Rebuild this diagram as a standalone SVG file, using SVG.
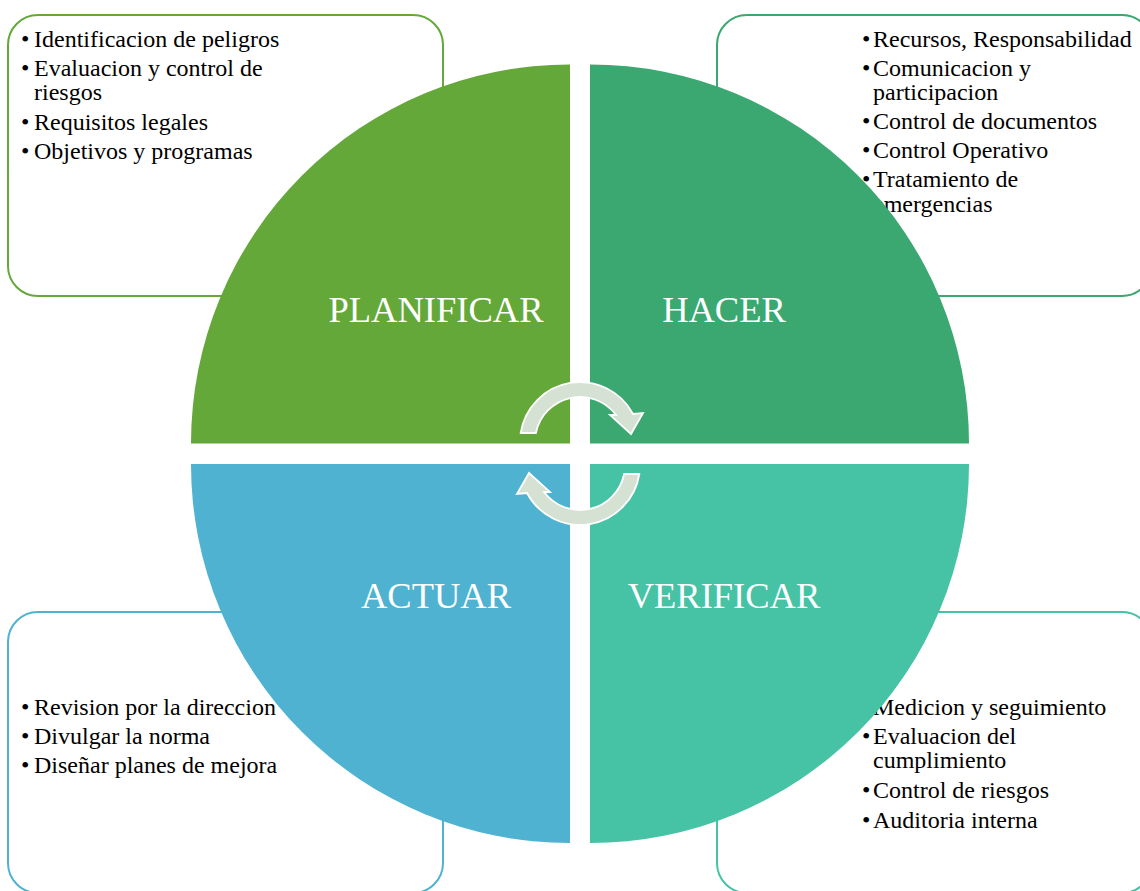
<svg xmlns="http://www.w3.org/2000/svg" width="1140" height="891" viewBox="0 0 1140 891">
<style>
.box{fill:#ffffff;stroke-width:2}
.t{font-family:"Liberation Serif","Times New Roman",serif;font-size:24px;fill:#000000}
.lbl{font-family:"Liberation Serif","Times New Roman",serif;font-size:36.5px;fill:#ffffff;text-anchor:middle}
.arr{fill:#d5e1d2;stroke:#ffffff;stroke-width:1.8;stroke-linejoin:miter}
</style>
<rect width="1140" height="891" fill="#ffffff"/>
<g id="box-planificar">
<rect class="box" x="8" y="15" width="435" height="281" rx="30" stroke="#65a83a"/>
<text class="t"><tspan x="21" y="47">•</tspan><tspan x="34" y="47">Identificacion de peligros</tspan><tspan x="21" y="76">•</tspan><tspan x="34" y="76">Evaluacion y control de</tspan><tspan x="34" y="100">riesgos</tspan><tspan x="21" y="130">•</tspan><tspan x="34" y="130">Requisitos legales</tspan><tspan x="21" y="159">•</tspan><tspan x="34" y="159">Objetivos y programas</tspan></text>
</g>
<g id="box-hacer">
<rect class="box" x="717" y="15" width="435" height="281" rx="30" stroke="#3aa870"/>
<text class="t"><tspan x="862" y="47">•</tspan><tspan x="873" y="47">Recursos, Responsabilidad</tspan><tspan x="862" y="76">•</tspan><tspan x="873" y="76">Comunicacion y</tspan><tspan x="873" y="100">participacion</tspan><tspan x="862" y="129">•</tspan><tspan x="873" y="129">Control de documentos</tspan><tspan x="862" y="158">•</tspan><tspan x="873" y="158">Control Operativo</tspan><tspan x="862" y="187">•</tspan><tspan x="873" y="187">Tratamiento de</tspan><tspan x="873" y="212">emergencias</tspan></text>
</g>
<g id="box-actuar">
<rect class="box" x="8" y="612" width="435" height="281" rx="30" stroke="#4fb2d0"/>
<text class="t"><tspan x="21" y="715">•</tspan><tspan x="34" y="715">Revision por la direccion</tspan><tspan x="21" y="744">•</tspan><tspan x="34" y="744">Divulgar la norma</tspan><tspan x="21" y="773">•</tspan><tspan x="34" y="773">Diseñar planes de mejora</tspan></text>
</g>
<g id="box-verificar">
<rect class="box" x="717" y="612" width="435" height="281" rx="30" stroke="#46c2a5"/>
<text class="t"><tspan x="862" y="715">•</tspan><tspan x="873" y="715">Medicion y seguimiento</tspan><tspan x="862" y="744">•</tspan><tspan x="873" y="744">Evaluacion del</tspan><tspan x="873" y="768">cumplimiento</tspan><tspan x="862" y="798">•</tspan><tspan x="873" y="798">Control de riesgos</tspan><tspan x="862" y="828">•</tspan><tspan x="873" y="828">Auditoria interna</tspan></text>
</g>
<g id="planificar">
<path d="M570,443.5 L191,443.5 A379,379 0 0 1 570,64.5 Z" fill="#65a83a"/>
<text class="lbl" x="436" y="322">PLANIFICAR</text>
</g>
<g id="hacer">
<path d="M590,443.5 L590,64.5 A379,379 0 0 1 969,443.5 Z" fill="#3aa870"/>
<text class="lbl" x="724" y="322">HACER</text>
</g>
<g id="verificar">
<path d="M590,464 L969,464 A379,379 0 0 1 590,843 Z" fill="#46c2a5"/>
<text class="lbl" x="724" y="608">VERIFICAR</text>
</g>
<g id="actuar">
<path d="M570,464 L570,843 A379,379 0 0 1 191,464 Z" fill="#4fb2d0"/>
<text class="lbl" x="436" y="608">ACTUAR</text>
</g>
<g id="connectors">
<path id="arrow-top" class="arr" d="M520.7,433 A60,60 0 0 1 633,414 L643,413 L631,434 L610,415 L616,415 A45,45 0 0 0 535.9,433 Z"/>
<path id="arrow-bottom" class="arr" transform="rotate(180 580 453.5)" d="M520.7,433 A60,60 0 0 1 633,414 L643,413 L631,434 L610,415 L616,415 A45,45 0 0 0 535.9,433 Z"/>
</g>
</svg>
